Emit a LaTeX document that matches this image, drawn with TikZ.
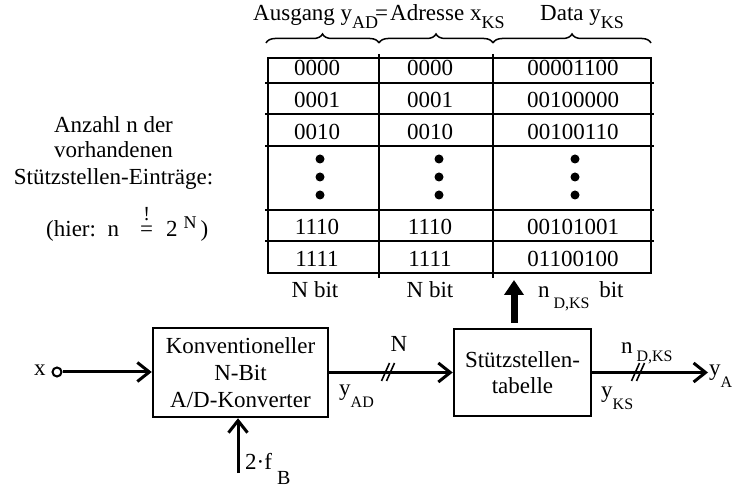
\documentclass[tikz,border=0pt]{standalone}
\usepackage{fontspec}
\setmainfont{Liberation Serif}
\usetikzlibrary{arrows.meta,decorations.pathreplacing}
% lowered index in a smaller size
\newcommand{\lowidx}[2][8]{\raisebox{-#1pt}{\fontsize{16}{16}\selectfont #2}}
% slightly larger index for the column headings
\newcommand{\headidx}[1]{\raisebox{-8pt}{\fontsize{18}{18}\selectfont #1}}
% equals sign with an exclamation mark on top
\newcommand{\eqbang}{\ooalign{\hfil\raisebox{16pt}{\fontsize{20}{20}\selectfont !}\hfil\cr=\cr}}
\begin{document}
\begin{tikzpicture}[x=1pt, y=-1pt, font=\fontsize{23}{27}\selectfont,
  grid/.style={line width=2.5pt},
  cell/.style={anchor=base, inner sep=0},
  lbl/.style={anchor=base west, inner sep=0},
  blk/.style={draw, line width=2.5pt, inner sep=0, align=center},
  sig/.style={line width=3pt, -{Straight Barb[length=12pt,width=19pt]}},
  brc/.style={decorate, decoration={brace, amplitude=9pt}, line width=1.5pt}]
\useasboundingbox (0,0) rectangle (740,489);

% column headings with braces
\node[lbl] (hA) at (253,21) {Ausgang y\headidx{AD}\hspace{-3pt}=};
\node[lbl] (hB) at (390,21) {Adresse x\headidx{KS}};
\node[lbl] (hC) at (540,21) {Data y\headidx{KS}};
\draw[brc] (266,43) -- (379,43);
\draw[brc] (379,43) -- (493,43);
\draw[brc] (493,43) -- (651,43);

% table grid
\draw[line width=2pt] (268,58) rectangle (651,273);
\foreach \y in {83,114,146,210,241} \draw[grid] (265,\y) -- (654,\y);
\foreach \x in {379,493} \draw[grid] (\x,54) -- (\x,278);

% table entries
\foreach \b/\a/\d [count=\i] in {76/0000/00001100, 108/0001/00100000,
    140/0010/00100110, 235/1110/00101001, 267/1111/01100100} {
  \node[cell] (a\i) at (317,\b) {\a};
  \node[cell] (k\i) at (430,\b) {\a};
  \node[cell] (d\i) at (573,\b) {\d};
}
\foreach \x in {320,439,575} \foreach \y in {159,177,195} \fill (\x,\y) circle (4.5pt);

% word widths
\node[cell] (w1) at (315,298) {N bit};
\node[cell] (w2) at (430,298) {N bit};
\node[lbl] (w3) at (538,298) {n\,\lowidx[11]{D,KS}\hspace{4pt} bit};

% left annotation
\node[cell] (t1) at (113.5,133) {Anzahl n der};
\node[cell] (t2) at (113.5,158) {vorhandenen};
\node[cell] (t3) at (113.5,185) {Stützstellen-Einträge:};
\node[lbl] (t4) at (46,237) {(hier:\hspace{4pt} n\hspace{21pt}\eqbang\hspace{13pt}2\hspace{6pt}\raisebox{8pt}{\fontsize{18}{18}\selectfont N}\hspace{4pt})};

% block diagram
\node[blk, minimum width=175pt, minimum height=89pt] (adc) at (240.5,372.5)
  {Konventioneller\\N-Bit\\A/D-Konverter};
\node[blk, minimum width=137pt, minimum height=87pt, font=\fontsize{23}{26}\selectfont] (tab) at (522.5,372.5)
  {Stützstellen-\\tabelle};
\node[draw, circle, line width=2pt, fill=white, minimum size=9pt, inner sep=0] (xin) at (57,372) {};
\node[cell] (xlab) at (40,376) {x};
\coordinate (clk) at (238,473);
\coordinate (yout) at (708,372.5);
\coordinate (upA) at (514,323);
\coordinate (upB) at (514,280);

\draw[sig] (xin) -- (xin -| adc.west);
\draw[sig] (adc.east) -- (tab.west);
\draw[sig] (tab.east) -- (yout);
\draw[sig] (clk) -- (clk |- adc.south);
\draw[line width=7pt, -{Triangle[length=15pt,width=19pt]}] (upA) -- (upB);

% bus width marks
\foreach \cx in {388,638} \foreach \d in {-2.5,2.5}
  \draw[line width=1.6pt] (\cx+\d-4,381) -- (\cx+\d+4,363);

% signal labels
\node[cell] (nlab) at (399,352) {N};
\node[lbl] (yad) at (339,396) {y\lowidx[12]{AD}};
\node[lbl] (ndks) at (621,354) {n\,\lowidx[8]{D,KS}};
\node[lbl] (yks) at (601,398) {y\lowidx[12]{KS}};
\node[lbl] (ya) at (709,376) {y\lowidx[12]{A}};
\node[lbl] (fb) at (245,470) {2·f\hspace{5pt}\raisebox{-15pt}{\fontsize{20}{20}\selectfont B}};
\end{tikzpicture}
\end{document}
